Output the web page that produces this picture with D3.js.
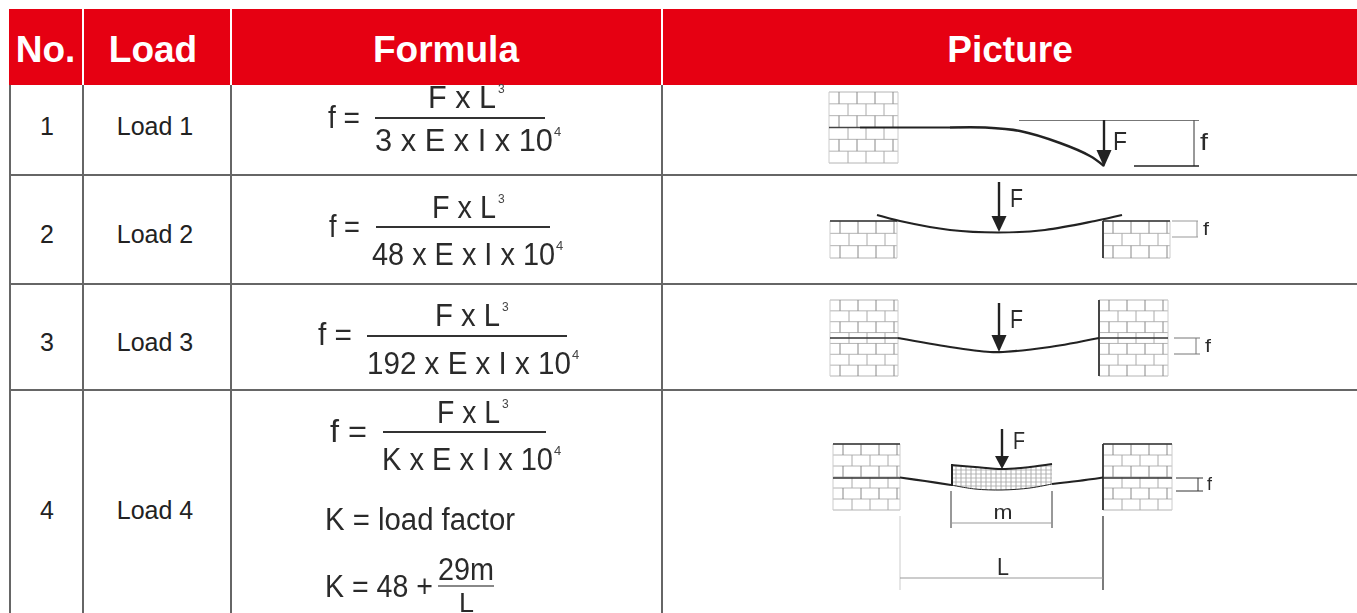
<!DOCTYPE html>
<html>
<head>
<meta charset="utf-8">
<script src="https://cdn.jsdelivr.net/npm/d3@7"></script>
<style>
    html, body { margin: 0; padding: 0; background: #fff; overflow: hidden; }
    svg { display: block; }
    text { font-family: "Liberation Sans", Arial, sans-serif; }
</style>
</head>
<body>
<svg id="chart" width="1357" height="613"></svg>
<script>
    // table content
    var headers = ['No.', 'Load', 'Formula', 'Picture'];
    var numbers = ['1', '2', '3', '4'];
    var loads = ['Load 1', 'Load 2', 'Load 3', 'Load 4'];
    var numerators = ['F x L', 'F x L', 'F x L', 'F x L'];
    var denominators = ['3 x E x I x 10', '48 x E x I x 10', '192 x E x I x 10', 'K x E x I x 10'];
    var factorNote = 'K = load factor';
    var factorLead = 'K = 48 +';
    var factorTop = '29m';
    var factorBottom = 'L';

    // layout, kept apart from the content above
    var width = 1357, height = 613;
    var red = '#e60012', rule = '#666', ink = '#2b2b2b', brick = '#b4b4b4';
    var columnEdges = [10, 83, 231, 662];
    var rowEdges = [175, 284, 390];
    var xHeader = d3.scaleOrdinal(headers, [45.5, 153, 446, 1010]);
    var xNumber = 47, xLoad = 155;
    var yBody = d3.scaleOrdinal(numbers, [135, 243, 351, 519]);

    var svg = d3.select('#chart');
    var defs = svg.append('defs');
    defs.append('filter').attr('id', 'soft')
        .attr('x', '-5%').attr('y', '-5%').attr('width', '110%').attr('height', '110%')
        .append('feGaussianBlur').attr('stdDeviation', 0.45);

    function hline(g, x1, x2, y, color, w) {
        g.append('line').attr('x1', x1).attr('x2', x2).attr('y1', y).attr('y2', y)
            .attr('stroke', color).attr('stroke-width', w);
    }
    function vline(g, x, y1, y2, color, w) {
        g.append('line').attr('x1', x).attr('x2', x).attr('y1', y1).attr('y2', y2)
            .attr('stroke', color).attr('stroke-width', w);
    }
    function label(g, s, x, y, size, len, anchor) {
        var t = g.append('text').attr('x', x).attr('y', y)
            .attr('font-size', size).attr('fill', ink)
            .attr('text-anchor', anchor || 'start').text(s);
        if (len) {
            t.attr('textLength', len).attr('lengthAdjust', 'spacingAndGlyphs');
        }
        return t;
    }

    // header band and grid
    var table = svg.append('g');
    table.append('rect').attr('x', 9).attr('y', 9).attr('width', width - 9).attr('height', 76).attr('fill', red);
    columnEdges.forEach(function(x, i) {
        if (i > 0) { vline(table, x, 9, 85, '#fff', 2); }
        vline(table, x, 85, height, rule, 2);
    });
    rowEdges.forEach(function(y) {
        hline(table, 10, width, y, rule, 2);
    });

    table.selectAll('text.head').data(headers).join('text')
        .attr('class', 'head')
        .attr('x', function(d) { return xHeader(d); })
        .attr('y', 62)
        .attr('text-anchor', 'middle')
        .attr('font-size', 37)
        .attr('font-weight', 'bold')
        .attr('fill', '#fff')
        .text(function(d) { return d; });

    table.selectAll('text.num').data(numbers).join('text')
        .attr('class', 'num')
        .attr('x', xNumber)
        .attr('y', function(d) { return yBody(d); })
        .attr('text-anchor', 'middle')
        .attr('font-size', 25)
        .attr('fill', '#222')
        .text(function(d) { return d; });

    table.selectAll('text.load').data(loads).join('text')
        .attr('class', 'load')
        .attr('x', xLoad)
        .attr('y', function(d, i) { return yBody(numbers[i]); })
        .attr('text-anchor', 'middle')
        .attr('font-size', 25)
        .attr('fill', '#222')
        .text(function(d) { return d; });

    // formulas
    var formulaGroup = svg.append('g').attr('filter', 'url(#soft)');
    var fractionLayout = [
        { fx: 328, fy: 128, eq: 'f =', eqLen: 32, rule: [375, 545, 118], numX: 428, numLen: 68, numY: 108, denX: 375, denLen: 178, denY: 151 },
        { fx: 329, fy: 237, eq: 'f =', eqLen: 31, rule: [376, 550, 227], numX: 432, numLen: 64, numY: 218, denX: 372, denLen: 183, denY: 265 },
        { fx: 318, fy: 345, eq: 'f =', eqLen: 34, rule: [367, 567, 336], numX: 435, numLen: 65, numY: 326, denX: 367, denLen: 204, denY: 374 },
        { fx: 330, fy: 442, eq: 'f  =', eqLen: 37, rule: [383, 546, 432], numX: 437, numLen: 63, numY: 423, denX: 382, denLen: 171, denY: 470 }
    ];
    fractionLayout.forEach(function(p, i) {
        label(formulaGroup, p.eq, p.fx, p.fy, 32, p.eqLen);
        hline(formulaGroup, p.rule[0], p.rule[1], p.rule[2], '#333', 2);
        label(formulaGroup, numerators[i], p.numX, p.numY, 32, p.numLen);
        label(formulaGroup, '3', p.numX + p.numLen + 2, p.numY - 15, 12).attr('fill', '#444');
        label(formulaGroup, denominators[i], p.denX, p.denY, 32, p.denLen);
        label(formulaGroup, '4', p.denX + p.denLen + 1, p.denY - 15, 13).attr('fill', '#444');
    });
    label(formulaGroup, factorNote, 325, 530, 31, 190);
    label(formulaGroup, factorLead, 325, 597, 31, 108);
    label(formulaGroup, factorTop, 438, 580, 31, 56);
    hline(formulaGroup, 438, 494, 586, '#888', 2);
    label(formulaGroup, factorBottom, 459, 612, 28, 15);

    // pictures
    var pic = svg.append('g').attr('filter', 'url(#soft)');
    var smooth = d3.line().curve(d3.curveCatmullRom);

    function wall(x, y, w, h, rows, topDark, leftDark) {
        var step = h / rows;
        d3.range(rows + 1).forEach(function(r) {
            hline(pic, x, x + w, y + r * step, brick, 1);
        });
        d3.range(rows).forEach(function(r) {
            var offset = r % 2 ? 9 : 0;
            d3.range(offset + 10, w, 18).forEach(function(dx) {
                vline(pic, x + dx, y + r * step, y + (r + 1) * step, r % 2 ? '#aaa' : '#888', 1);
            });
        });
        vline(pic, x, y, y + h, leftDark ? '#444' : '#ccc', leftDark ? 2 : 1);
        vline(pic, x + w, y, y + h, '#ccc', 1);
        if (topDark) { hline(pic, x, x + w, y, '#333', 1.6); }
    }
    function arrow(x, y1, y2, headTop, half) {
        vline(pic, x, y1, headTop + 2, '#222', 2.4);
        pic.append('path')
            .attr('d', d3.line()([[x - half, headTop], [x + half, headTop], [x, y2]]) + 'Z')
            .attr('fill', '#222');
    }
    function beam(points, w) {
        pic.append('path').attr('d', smooth(points))
            .attr('fill', 'none').attr('stroke', '#222').attr('stroke-width', w || 2);
    }
    function gauge(x1, x2, vx, y1, y2, color) {
        hline(pic, x1, x2, y1, color, 1);
        hline(pic, x1, x2, y2, color, 1);
        vline(pic, vx, y1, y2, color, 1);
    }

    // row 1, cantilever
    wall(829, 92, 69, 71, 6, false, false);
    hline(pic, 829, 860, 127.5, '#444', 1.5);
    hline(pic, 860, 950, 127.5, '#222', 2);
    beam([[950, 127.5], [985, 127.5], [1020, 131], [1060, 143], [1090, 156], [1104, 166]], 2.4);
    hline(pic, 1019, 1199, 120.5, '#777', 1);
    arrow(1104, 120, 167, 150, 7.5);
    label(pic, 'F', 1113, 150, 26, 14);
    vline(pic, 1194, 120, 166, '#555', 1.2);
    hline(pic, 1134, 1199, 166, '#222', 1.6);
    label(pic, 'f', 1200, 150, 24, 8);

    // row 2, supported at both ends
    wall(830, 221, 67, 37, 3, true, false);
    wall(1103, 221, 67, 37, 3, true, true);
    beam([[877, 215], [900, 221], [950, 230], [998, 232.5], [1045, 230], [1095, 221], [1122, 215]], 2.2);
    arrow(999, 182, 232, 216, 7.5);
    label(pic, 'F', 1010, 207, 26, 13);
    gauge(1172, 1198, 1197, 221, 237, '#999');
    label(pic, 'f', 1203, 235, 18, 6);

    // row 3, fixed at both ends
    wall(830, 300, 68, 76, 7, false, false);
    wall(1099, 300, 69, 76, 7, false, true);
    hline(pic, 830, 898, 338, '#333', 1.6);
    hline(pic, 1099, 1168, 338, '#333', 1.6);
    beam([[898, 338], [950, 347], [990, 352], [1003, 352], [1050, 347], [1099, 338]], 2.2);
    arrow(999, 303, 352, 335, 7.5);
    label(pic, 'F', 1010, 328, 26, 13);
    gauge(1174, 1200, 1196, 338, 354, '#777');
    label(pic, 'f', 1205, 352, 18, 6);

    // row 4, spread load
    wall(833, 444, 67, 66, 6, true, false);
    wall(1103, 444, 69, 66, 6, true, true);
    hline(pic, 833, 900, 478, '#333', 1.6);
    hline(pic, 1103, 1172, 478, '#333', 1.6);
    beam([[900, 477.5], [925, 481], [951, 485]], 2.2);
    beam([[1052, 484], [1078, 481], [1103, 477.5]], 2.2);

    var loadTop = [[951, 465], [975, 467], [1002, 469], [1030, 467], [1052, 464]];
    var loadBottom = [[951, 485], [975, 489], [1002, 490], [1030, 488], [1052, 484]];
    var clip = defs.append('clipPath').attr('id', 'loadShape');
    clip.append('path').attr('d',
        smooth(loadTop) + 'L' + smooth(loadBottom.slice().reverse()).slice(1) + 'Z');
    var hatch = pic.append('g').attr('clip-path', 'url(#loadShape)');
    d3.range(951, 1053, 5).forEach(function(x) { vline(hatch, x, 460, 495, '#999', 0.8); });
    d3.range(462, 494, 4).forEach(function(y) { hline(hatch, 950, 1053, y, '#aaa', 0.8); });
    beam(loadTop, 2);
    beam(loadBottom, 1);
    vline(pic, 952, 464, 486, '#222', 2);
    arrow(1002, 429, 469, 456, 7);
    label(pic, 'F', 1013, 449, 24, 12);
    gauge(1176, 1203, 1198, 478, 491, '#333');
    label(pic, 'f', 1207, 490, 18, 5);

    vline(pic, 951, 491, 528, '#555', 1.2);
    vline(pic, 1052, 491, 528, '#555', 1.2);
    hline(pic, 951, 1052, 523, '#999', 1);
    label(pic, 'm', 1003, 519, 21, 19, 'middle');
    vline(pic, 900, 516, 590, '#ccc', 1);
    vline(pic, 1103, 516, 590, '#444', 1.4);
    hline(pic, 900, 1103, 578, '#999', 1);
    label(pic, 'L', 1003, 575, 24, 12, 'middle');
</script>
</body>
</html>
